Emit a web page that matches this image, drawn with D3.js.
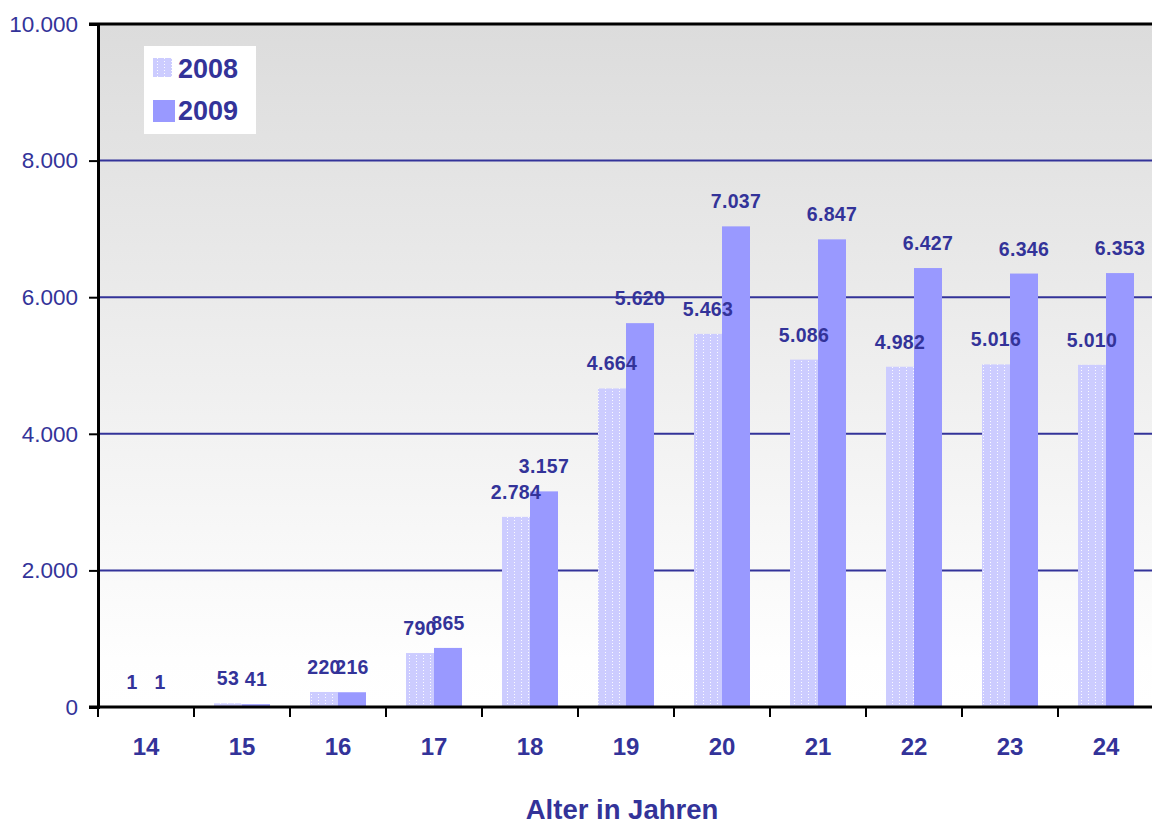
<!DOCTYPE html>
<html><head><meta charset="utf-8">
<script src="https://cdn.jsdelivr.net/npm/d3@7"></script>
<style>body{margin:0;background:#fff}svg{display:block}</style>
</head><body><svg id="c" width="1152" height="823"></svg>
<script>
const categories = ["14","15","16","17","18","19","20","21","22","23","24"];
const series = ["2008","2009"];
const values2008 = [1,53,220,790,2784,4664,5463,5086,4982,5016,5010];
const values2009 = [1,41,216,865,3157,5620,7037,6847,6427,6346,6353];
const yTicks = [0,2000,4000,6000,8000,10000];
const xTitle = "Alter in Jahren";

const W=1152,H=823;
const m={left:98,right:-2,top:24,bottom:116};
const svg=d3.select("#c");
const textCol="#333399";
const FONT="Liberation Sans, Arial, sans-serif";
const loc=d3.formatLocale({decimal:",",thousands:".",grouping:[3],currency:["","€"]});
const fmt=loc.format(",");

const x=d3.scaleBand().domain(categories).range([m.left,W-m.right]);
const y=d3.scaleLinear().domain([0,10000]).range([H-m.bottom,m.top]);
const x1=d3.scaleBand().domain(series).range([0,56]);

const defs=svg.append("defs");
const g=defs.append("linearGradient").attr("id","bg").attr("x1",0).attr("y1",0).attr("x2",0).attr("y2",1);
g.append("stop").attr("offset","0").attr("stop-color","#dcdcdc");
g.append("stop").attr("offset","0.93").attr("stop-color","#fefefe");
g.append("stop").attr("offset","1").attr("stop-color","#ffffff");
const p=defs.append("pattern").attr("id","dots").attr("patternUnits","userSpaceOnUse").attr("width",7).attr("height",3);
p.append("rect").attr("width",7).attr("height",3).attr("fill","#ccccff");
p.append("rect").attr("x",3).attr("y",1).attr("width",1).attr("height",1).attr("fill","#ffffff").attr("opacity",0.9);

svg.append("rect").attr("x",m.left).attr("y",m.top).attr("width",W-m.left).attr("height",y(0)-m.top).attr("fill","url(#bg)");

// gridlines
svg.append("g").selectAll("line").data(yTicks.filter(d=>d>0&&d<10000)).join("line")
  .attr("x1",m.left).attr("x2",W).attr("y1",d=>y(d)).attr("y2",d=>y(d))
  .attr("stroke","#333399").attr("stroke-width",2);

// bars
const colors={"2008":"url(#dots)","2009":"#9999ff"};
const data=categories.map((c,i)=>({c,v:{"2008":values2008[i],"2009":values2009[i]}}));
const off=(x.bandwidth()-56)/2;
const bg=svg.append("g");
data.forEach(d=>{
  series.forEach(s=>{
    const bx=x(d.c)+off+x1(s);
    bg.append("rect").attr("x",bx).attr("y",y(d.v[s])).attr("width",x1.bandwidth()).attr("height",y(0)-y(d.v[s])).attr("fill",colors[s]);
  });
});
// labels
data.forEach(d=>{
  series.forEach(s=>{
    const bx=x(d.c)+off+x1(s)+x1.bandwidth()/2;
    svg.append("text").attr("x",bx).attr("y",y(d.v[s])-18).attr("text-anchor","middle")
      .attr("font-family",FONT).attr("font-weight","bold").attr("font-size",19.5)
      .attr("letter-spacing","0.3px").attr("fill",textCol).text(fmt(d.v[s]));
  });
});

// top border
svg.append("line").attr("x1",89).attr("x2",W).attr("y1",y(10000)).attr("y2",y(10000)).attr("stroke","#000").attr("stroke-width",3);

// y axis
const ya=svg.append("g").attr("transform",`translate(${m.left},0)`)
  .call(d3.axisLeft(y).tickValues(yTicks).tickFormat(d=>fmt(d)).tickSize(9).tickPadding(11));
ya.select(".domain").attr("stroke","#000").attr("stroke-width",3);
ya.selectAll(".tick line").attr("stroke","#000").attr("stroke-width",2);
ya.selectAll(".tick text").attr("font-family",FONT).attr("font-size",22.5).attr("fill",textCol);

// x axis
const xa=svg.append("g").attr("transform",`translate(0,${y(0)})`)
  .call(d3.axisBottom(x).tickSize(0).tickPadding(31));
xa.select(".domain").attr("stroke","#000").attr("stroke-width",3).attr("d",`M89,0H${W}`);
xa.selectAll(".tick text").attr("font-family",FONT).attr("font-weight","bold").attr("font-size",24).attr("fill",textCol);
svg.append("g").selectAll("line").data(categories).join("line")
  .attr("x1",d=>x(d)).attr("x2",d=>x(d)).attr("y1",y(0)).attr("y2",y(0)+10).attr("stroke","#000").attr("stroke-width",2);

svg.append("text").attr("x",622).attr("y",819).attr("text-anchor","middle")
  .attr("font-family",FONT).attr("font-weight","bold").attr("font-size",27.5).attr("fill",textCol).text(xTitle);

// legend
const lg=svg.append("g");
lg.append("rect").attr("x",144).attr("y",46).attr("width",112).attr("height",88).attr("fill","#fff");
series.forEach((s,i)=>{
  const yy=i===0?58:100;
  const sz=i===0?19:22;
  lg.append("rect").attr("x",153).attr("y",yy).attr("width",sz).attr("height",sz).attr("fill",colors[s]);
  lg.append("text").attr("x",178).attr("y",i===0?78:120).attr("font-family",FONT)
    .attr("font-weight","bold").attr("font-size",27).attr("fill",textCol).text(s);
});
</script></body></html>
